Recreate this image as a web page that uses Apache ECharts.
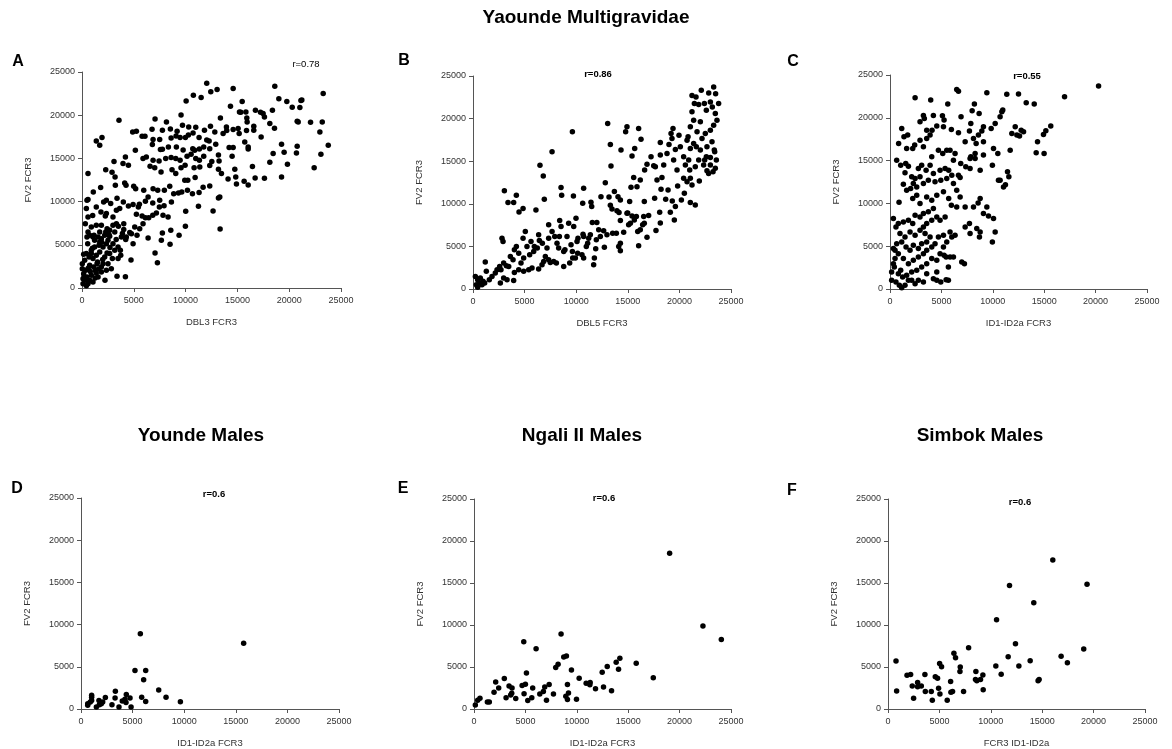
<!DOCTYPE html>
<html>
<head>
<meta charset="utf-8">
<script src="https://cdn.jsdelivr.net/npm/echarts@6/dist/echarts.min.js"></script>
<style>
html,body{margin:0;padding:0;background:#fff;}
#chart{width:1172px;height:749px;}
</style>
</head>
<body>
<div id="chart"></div>
<script>
// ---------- data ----------
const mainTitle = "Yaounde Multigravidae";
const rowTitles = ["Younde Males", "Ngali II Males", "Simbok Males"];
const panelLetters = ["A", "B", "C", "D", "E", "F"];
const rLabels = ["r=0.78", "r=0.86", "r=0.55", "r=0.6", "r=0.6", "r=0.6"];
const xNames = ["DBL3 FCR3", "DBL5 FCR3", "ID1-ID2a FCR3", "ID1-ID2a FCR3", "ID1-ID2a FCR3", "FCR3 ID1-ID2a"];
const yNames = ["FV2 FCR3", "FV2 FCR3", "FV2 FCR3", "FV2 FCR3", "FV2 FCR3", "FV2 FCR3"];
const axisTicks = [0, 5000, 10000, 15000, 20000, 25000];

const panelA = [[12040,23700],[14590,23080],[10750,22310],[12430,22700],[13040,22970],[11500,22040],[18610,23350],[23280,22500],[10050,21650],[15460,21580],[14330,21040],[19000,21890],[19770,21580],[20290,20920],[21130,21690],[21220,21770],[15200,20380],[15330,20340],[15820,20380],[16740,20570],[17230,20340],[17480,20190],[18380,20570],[21030,20880],[9560,20030],[3570,19420],[7050,19570],[8150,19220],[9700,18840],[13360,19690],[17610,19800],[20770,19300],[20870,19220],[22060,19180],[23190,19220],[22960,18070],[18580,18490],[15910,19690],[15940,19220],[16580,18260],[10300,18640],[10980,18610],[11820,18260],[12400,18720],[13940,18640],[14590,18340],[15070,18450],[16580,18720],[18130,19030],[6760,18370],[4890,18070],[5250,18140],[5800,17560],[6080,17560],[6860,17180],[7760,18260],[8530,18410],[9080,17600],[9180,18140],[7500,17180],[8600,17370],[9470,17410],[9980,17410],[10270,17720],[10720,17950],[11300,17410],[12040,17140],[12270,17020],[12820,18070],[13620,17870],[13970,18220],[15170,17870],[15880,18220],[17290,17490],[1380,17020],[1930,17410],[1710,16520],[6790,16600],[7570,16020],[7760,16060],[8340,16330],[9110,16330],[9760,15980],[10690,16130],[10880,15940],[11330,16100],[11750,16330],[12330,16130],[12910,16640],[14200,16250],[14590,16250],[15710,16910],[16040,16330],[16040,16100],[19260,16640],[20770,16410],[23770,16520],[5150,15940],[4190,15170],[5890,14980],[6210,15170],[6860,14780],[7440,14710],[8080,14980],[8600,15090],[9050,14980],[9470,14780],[10140,15250],[10530,15480],[10980,14980],[11330,14780],[11750,15250],[12530,14630],[13170,15400],[13230,14710],[14490,15250],[3090,14630],[3960,14400],[4480,14200],[2290,13700],[2900,13390],[580,13240],[6570,14090],[7020,13930],[7630,13430],[8690,13700],[9050,13240],[9560,13930],[9950,14200],[10820,13930],[11370,14010],[12330,14170],[13170,13740],[13460,13240],[14750,13740],[14840,12850],[14100,12620],[15650,12350],[16450,14050],[18130,14550],[19830,14320],[20700,15630],[19510,15710],[18450,15560],[19260,12850],[16710,12740],[17610,12700],[22410,13930],[23060,15480],[14910,12040],[16040,11930],[12330,11810],[10920,12780],[9920,12470],[10210,12470],[11690,11660],[3190,12850],[4120,12160],[4250,11890],[3220,11890],[1800,11620],[1090,11120],[4990,11770],[5180,11500],[5960,11310],[6380,10540],[6860,11500],[7310,11310],[7950,11310],[8470,11770],[8850,10920],[9310,11000],[9630,11120],[10180,11310],[10660,10920],[11300,11040],[13300,10540],[13170,10420],[11240,9460],[12650,8920],[10010,8880],[8630,9960],[7920,9530],[7470,9380],[7500,10150],[6830,9840],[6120,10040],[5540,9690],[5440,9380],[4930,9650],[4480,9500],[3990,9960],[3380,10380],[2770,9770],[2350,10150],[2090,9960],[1380,9380],[480,10150],[580,10230],[420,9190],[580,8220],[1030,8380],[1830,8800],[2250,8340],[2350,8610],[2990,8220],[3320,8990],[3640,9190],[5250,8530],[5800,8340],[6120,8140],[6440,8140],[6830,8410],[7180,8690],[7820,8410],[8310,8220],[8570,6680],[9980,7140],[9370,6100],[13330,6830],[8500,5060],[7660,5520],[7760,6370],[6380,5790],[7050,4050],[7280,2930],[4730,3240],[3380,1350],[4190,1310],[2220,890],[1260,1160],[5090,7060],[4610,6410],[4280,5910],[4220,5600],[3800,5910],[3320,7450],[2990,7260],[2670,6680],[2290,6490],[1710,6490],[1380,7260],[900,7060],[740,6100],[1160,6100],[1550,5910],[1870,5710],[2190,6100],[2510,5520],[2990,5130],[3480,4750],[3700,4360],[3740,3780],[2930,3400],[2420,4050],[2030,4750],[1640,4940],[1220,4750],[900,4360],[550,5130],[420,3980],[260,3200],[680,3590],[1060,3400],[1380,3780],[1710,4170],[2190,3590],[2510,2820],[2830,2240],[2350,2050],[1870,2430],[1450,2820],[1130,2430],[740,2620],[350,2050],[160,1660],[480,1270],[740,890],[1060,690],[100,500],[260,890],[1550,1270],[1870,1850],[100,1080],[580,500],[420,270],[900,1470],[1380,1740],[2030,2820],[2670,3980],[3160,4360],[3480,3400],[1710,5330],[1220,5520],[2350,5130],[480,5910],[2670,5980],[3160,6490],[3510,7140],[4030,6760],[4030,7450],[4770,6290],[4930,5130],[5310,6100],[5570,6870],[5890,7450],[320,7450],[580,6490],[1060,5910],[2420,6870],[1870,7260],[30,2820],[30,2240],[160,3900],[900,3980],[1500,3000],[2000,3300],[1300,2000],[800,1900],[600,2300],[2700,4700],[3300,5600],[1900,5300],[1000,4600],[2600,6200],[3900,6300],[700,800],[200,1300],[1600,2200]];

const panelB = [[13050,19420],[14920,19030],[14790,18450],[16050,18840],[9630,18450],[16280,17590],[15670,16500],[14340,16300],[13310,16970],[7660,16110],[6490,14510],[13370,14430],[6810,13260],[15410,15600],[3040,11540],[4200,11000],[3940,10140],[3390,10140],[4850,9440],[4460,9050],[6100,9280],[6910,10530],[8530,11900],[8590,11000],[9730,10920],[10720,11820],[10630,10060],[12820,12480],[12400,10840],[11430,10180],[11500,9670],[13180,10800],[13700,11430],[13310,9830],[13470,9400],[14050,10840],[14280,10450],[13950,9170],[14150,8970],[15180,10260],[15570,13100],[14280,8030],[14990,8930],[15310,11930],[15890,12010],[16210,12790],[16630,13960],[16860,14630],[17250,15520],[17510,14470],[17670,14350],[18150,15720],[18480,14550],[18310,13100],[18150,17200],[18800,15910],[18990,16970],[19190,18250],[19380,18840],[19280,17670],[19610,16380],[19440,15130],[19770,13960],[19960,18060],[20090,16690],[20410,15520],[20580,14550],[20410,12990],[20740,17470],[20840,17860],[21060,16500],[21060,19030],[21380,19810],[21220,20790],[21450,21760],[21610,22540],[21220,22700],[21870,21650],[22120,23320],[22420,21760],[22610,20980],[22840,23010],[23000,21960],[23320,23710],[23510,22930],[23190,21370],[23480,20590],[23640,19810],[23800,21760],[23320,19230],[23000,18640],[22510,18250],[22030,19620],[21710,18450],[22190,17670],[22670,16690],[23160,17280],[23380,16300],[23580,15130],[23480,14160],[23000,14550],[22610,15520],[22030,16300],[21640,16690],[21870,15130],[21540,14350],[21380,17080],[20900,15130],[21000,13960],[20740,12600],[21220,12210],[21060,12990],[21540,9870],[21060,10140],[21930,12680],[22350,14550],[22670,13880],[22830,13570],[22450,15130],[23000,15440],[23260,13770],[23420,16110],[20480,11230],[20190,10450],[19830,12090],[19610,9670],[19510,8110],[19120,9010],[19310,10340],[18900,11620],[18670,10530],[18220,11700],[17830,12790],[17600,10650],[18090,9010],[18150,7760],[17020,8620],[17730,6860],[16860,6080],[16540,8500],[16440,7530],[16600,7720],[16210,6940],[15960,6750],[16050,5070],[16600,10260],[15830,8500],[15630,8110],[15250,7720],[15410,8580],[14920,8890],[15080,7530],[14600,6670],[14280,5380],[14120,4990],[14280,4490],[13890,6550],[13530,6550],[12980,6360],[12660,6830],[12730,4910],[12340,6160],[12180,6940],[11950,5770],[11890,4720],[11760,3630],[11690,2850],[11560,7800],[12000,7800],[11370,6360],[11210,5970],[10980,4990],[11110,5380],[10720,6160],[10660,6440],[10720,3630],[10140,4210],[10080,5580],[10170,5970],[9980,8310],[9760,7330],[9630,4410],[9660,3630],[9500,5190],[9270,7720],[9110,6160],[8910,4600],[8790,4410],[8530,7330],[8400,8030],[8370,6160],[8300,4800],[8140,5380],[7820,3240],[7920,6160],[7660,6750],[7330,7530],[7330,5970],[7170,4800],[7010,3820],[6850,3240],[6720,5380],[6430,5690],[6360,6360],[6230,4800],[5940,4990],[5880,4410],[5620,5580],[5490,4020],[5230,4990],[5070,6750],[4850,5970],[4910,3630],[4650,3040],[4430,4210],[4200,4990],[4010,4600],[3880,3430],[3620,3820],[3460,2650],[3230,2730],[2970,3040],[2810,5970],[2910,5580],[2710,2260],[2580,2650],[2330,2260],[2160,1870],[1840,1480],[1580,1090],[1290,2070],[1190,3160],[2650,700],[2970,1290],[3300,1090],[3940,1010],[4010,1950],[4430,2260],[4910,2070],[5400,2260],[5720,2460],[6360,2340],[6690,2850],[7330,3430],[7490,3120],[8080,3040],[8790,2650],[9370,3040],[9920,3630],[10560,4020],[230,1480],[450,1090],[650,700],[320,510],[710,1290],[970,900],[450,200],[1130,700],[870,510]];

const panelC = [[20290,23710],[16980,22460],[12500,22780],[13250,21760],[14030,21610],[11360,22740],[9420,22930],[6490,23320],[6660,23090],[2440,22350],[3960,22070],[5620,21610],[8210,21610],[7990,20830],[8670,20510],[6910,20120],[4220,20280],[3250,20280],[5100,20240],[10710,20120],[10880,20710],[10970,20900],[9840,18760],[10230,19340],[9090,18950],[8930,18450],[7860,19340],[7730,18450],[8600,17980],[8120,17590],[7310,17200],[6660,18250],[5970,18640],[5200,18950],[5260,19730],[4550,19030],[4090,18560],[3570,18560],[2920,19540],[3340,19930],[3570,17590],[3900,17980],[2920,17390],[2400,16810],[2210,16420],[1620,16420],[1140,18760],[1360,17780],[1720,17980],[840,17000],[3250,16610],[4060,15440],[4710,16220],[5130,15830],[5520,16220],[6330,15830],[6880,14660],[6170,15050],[5840,16220],[8280,15830],[9090,15640],[10070,16420],[10490,15830],[9960,14470],[10550,12710],[10710,12710],[11690,16220],[12600,17860],[12760,18560],[12990,18370],[12180,18950],[11850,18170],[12340,17980],[14350,17200],[14220,15910],[14990,15830],[14930,18060],[15160,18490],[15640,19030],[11040,11930],[11230,12170],[11430,13690],[11560,13100],[650,15050],[1040,14470],[1530,14660],[1460,13570],[1790,14350],[2110,13100],[2440,12910],[2270,12320],[2600,11930],[2920,13100],[3080,14470],[2760,14080],[3510,13880],[3900,14470],[4220,13490],[4870,13880],[5360,14080],[5710,13880],[6010,13300],[5520,12910],[4940,12710],[4380,12520],[3730,12710],[3250,12320],[6660,13300],[6820,13030],[6170,12320],[6490,11540],[7370,14270],[7790,14080],[8280,15250],[7790,15250],[8770,13880],[7860,15440],[8380,17000],[9090,17200],[880,10140],[1300,12250],[1620,11540],[2010,11740],[2210,10570],[2600,10960],[2920,9980],[3570,10760],[4060,10370],[4550,10960],[5200,11350],[5710,10570],[5970,9790],[6490,9590],[6820,10760],[7310,9590],[8120,9590],[8770,10570],[8570,10060],[9420,9590],[9090,8810],[10070,8230],[10230,6670],[9580,8540],[7730,7640],[7790,6470],[8440,7060],[8700,6080],[7310,7250],[9960,5500],[7240,2960],[5260,3940],[5460,3740],[6170,3740],[5680,1010],[5460,1090],[4940,820],[4550,1010],[4220,1210],[3250,820],[2440,620],[2110,1010],[1460,430],[1140,160],[910,430],[580,820],[160,1010],[160,1990],[420,2570],[810,1790],[1230,1400],[1620,1600],[2110,1990],[2600,2180],[3080,2570],[3570,2960],[4060,3550],[4550,3350],[4870,4130],[5200,4910],[5520,5500],[6010,6080],[6330,6280],[5840,6670],[5200,6280],[4710,6080],[4380,5300],[4060,4910],[3570,4520],[3250,4130],[2760,3740],[2270,3350],[1790,2960],[1300,3550],[810,4130],[490,4520],[330,4720],[650,5300],[1140,5500],[1560,4910],[1950,4520],[2270,5110],[2760,4720],[3080,5300],[3570,5500],[3900,6080],[3410,6470],[2920,6860],[2440,6280],[1950,6670],[1460,6080],[970,6470],[580,7250],[330,8230],[810,7640],[1300,7840],[1790,8030],[2210,7640],[2440,8620],[2920,8420],[3250,8810],[3730,9010],[4220,9400],[4550,8420],[4870,8030],[5360,8420],[4060,8030],[3570,7640],[3250,7250],[330,2960],[490,3550],[1040,2180],[1790,1010],[2760,1010],[3570,1790],[4550,1990],[5680,2570],[5840,3740],[8770,6670],[6980,3160]];

const panelD = [[5750,8930],[15760,7800],[5230,4560],[6270,4560],[6070,3470],[7530,2260],[3330,2110],[4390,1720],[1030,1640],[1030,1400],[2360,1370],[3300,1290],[4750,1290],[8240,1400],[5880,1400],[4260,1170],[1740,1010],[4000,940],[900,820],[1970,620],[2100,820],[6270,900],[9630,860],[4360,780],[650,620],[650,430],[1780,510],[3000,510],[3680,230],[1490,230],[4850,230],[1030,1010]];

const panelE = [[19030,18530],[22270,9870],[24060,8270],[4840,8000],[6040,7180],[8470,8930],[8990,6320],[8730,6200],[14190,6050],[13830,5580],[15780,5460],[12960,5070],[8180,5340],[7950,4950],[9480,4640],[14060,4720],[5100,4290],[12470,4370],[10230,3670],[17440,3710],[2950,3630],[2110,3200],[11300,3160],[10910,3080],[3410,2730],[11270,2890],[7310,2930],[4680,2810],[5000,2960],[9090,2930],[2400,2500],[3700,2500],[5710,2500],[6880,2610],[12600,2610],[11820,2420],[8930,1520],[1950,1990],[6750,2070],[6400,1790],[3570,1680],[3670,1870],[4870,1830],[7730,1790],[9190,1910],[13380,2180],[3120,1330],[4060,1250],[5620,1330],[9090,1130],[9970,1170],[5230,1010],[7050,1050],[360,1050],[580,1290],[1300,820],[1490,820],[130,470]];

const panelF = [[16030,17730],[19360,14840],[11820,14690],[14180,12660],[10560,10620],[12400,7770],[7840,7300],[6410,6640],[6570,6090],[11690,6210],[16840,6290],[19040,7150],[780,5700],[13830,5740],[17450,5510],[5020,5430],[5210,5040],[10490,5120],[12730,5120],[7030,5000],[7000,4450],[8550,4450],[11010,4140],[9230,4060],[1850,4020],[2200,4100],[3590,4100],[4600,3830],[4820,3670],[8510,3520],[9000,3520],[8640,3360],[14700,3520],[14600,3360],[6090,3280],[2880,3160],[2880,2660],[2360,2730],[3240,2730],[4920,2460],[9260,2300],[840,2150],[3630,2070],[4210,2070],[6120,1990],[6280,2070],[7350,2070],[5050,1800],[2490,1290],[4310,1050],[5760,1050]];

const panelData = [panelA, panelB, panelC, panelD, panelE, panelF];

// ---------- layout ----------
const FONT = '"Liberation Sans", Arial, sans-serif';
const gridRects = [
  {left: 82,  top: 72,  width: 259, height: 216},
  {left: 473, top: 76,  width: 258, height: 213},
  {left: 890, top: 75,  width: 257, height: 214},
  {left: 81,  top: 498, width: 258, height: 214},
  {left: 474, top: 499, width: 257, height: 213},
  {left: 888, top: 499, width: 257, height: 213}
];
const letterPos = [[18,62],[404,61],[793,62],[17,489],[403,489],[792,491]];
const rPos = [[306,64],[598,74],[1027,76],[214,494],[604,498],[1020,502]];
const rBold = [false,true,true,true,true,true];
const rowTitlePos = [[201,436],[582,436],[980,436]];

const axisCommon = {
  type: 'value', min: axisTicks[0], max: axisTicks[axisTicks.length-1],
  interval: axisTicks[1]-axisTicks[0],
  splitLine: {show: false},
  axisLine: {show: true, lineStyle: {color: '#555', width: 1}},
  axisTick: {show: true, inside: false, length: 4, lineStyle: {color: '#555'}},
  axisLabel: {fontSize: 9, color: '#333', fontFamily: FONT, formatter: v => String(v)},
  nameLocation: 'middle',
  nameTextStyle: {fontSize: 9.5, color: '#333', fontFamily: FONT}
};

const graphics = [];
graphics.push({type:'text', x:586, y:18, style:{text: mainTitle, font:'bold 19px ' + FONT, fill:'#000', textAlign:'center', textVerticalAlign:'middle'}});
rowTitles.forEach((t,i)=>graphics.push({type:'text', x:rowTitlePos[i][0], y:rowTitlePos[i][1], style:{text:t, font:'bold 19px ' + FONT, fill:'#000', textAlign:'center', textVerticalAlign:'middle'}}));
panelLetters.forEach((t,i)=>graphics.push({type:'text', x:letterPos[i][0], y:letterPos[i][1], style:{text:t, font:'bold 16px ' + FONT, fill:'#000', textAlign:'center', textVerticalAlign:'middle'}}));
rLabels.forEach((t,i)=>graphics.push({type:'text', x:rPos[i][0], y:rPos[i][1], style:{text:t, font:(rBold[i]?'bold ':'') + '9.5px ' + FONT, fill:'#000', textAlign:'center', textVerticalAlign:'middle'}}));

const option = {
  animation: false,
  backgroundColor: '#fff',
  grid: gridRects.map(r => Object.assign({containLabel: false}, r)),
  xAxis: gridRects.map((r,i) => Object.assign({}, axisCommon, {
    gridIndex: i, name: xNames[i], nameGap: 29,
    axisLabel: Object.assign({}, axisCommon.axisLabel, {margin: 8})
  })),
  yAxis: gridRects.map((r,i) => Object.assign({}, axisCommon, {
    gridIndex: i, name: yNames[i], nameGap: 49,
    axisLabel: Object.assign({}, axisCommon.axisLabel, {margin: 7})
  })),
  series: panelData.map((d,i) => ({
    type: 'scatter', xAxisIndex: i, yAxisIndex: i, data: d,
    symbol: 'circle', symbolSize: 5.5, itemStyle: {color: '#000', opacity: 1},
    silent: true
  })),
  graphic: graphics
};

const chart = echarts.init(document.getElementById('chart'), null, {renderer: 'canvas'});
chart.setOption(option);
</script>
</body>
</html>
